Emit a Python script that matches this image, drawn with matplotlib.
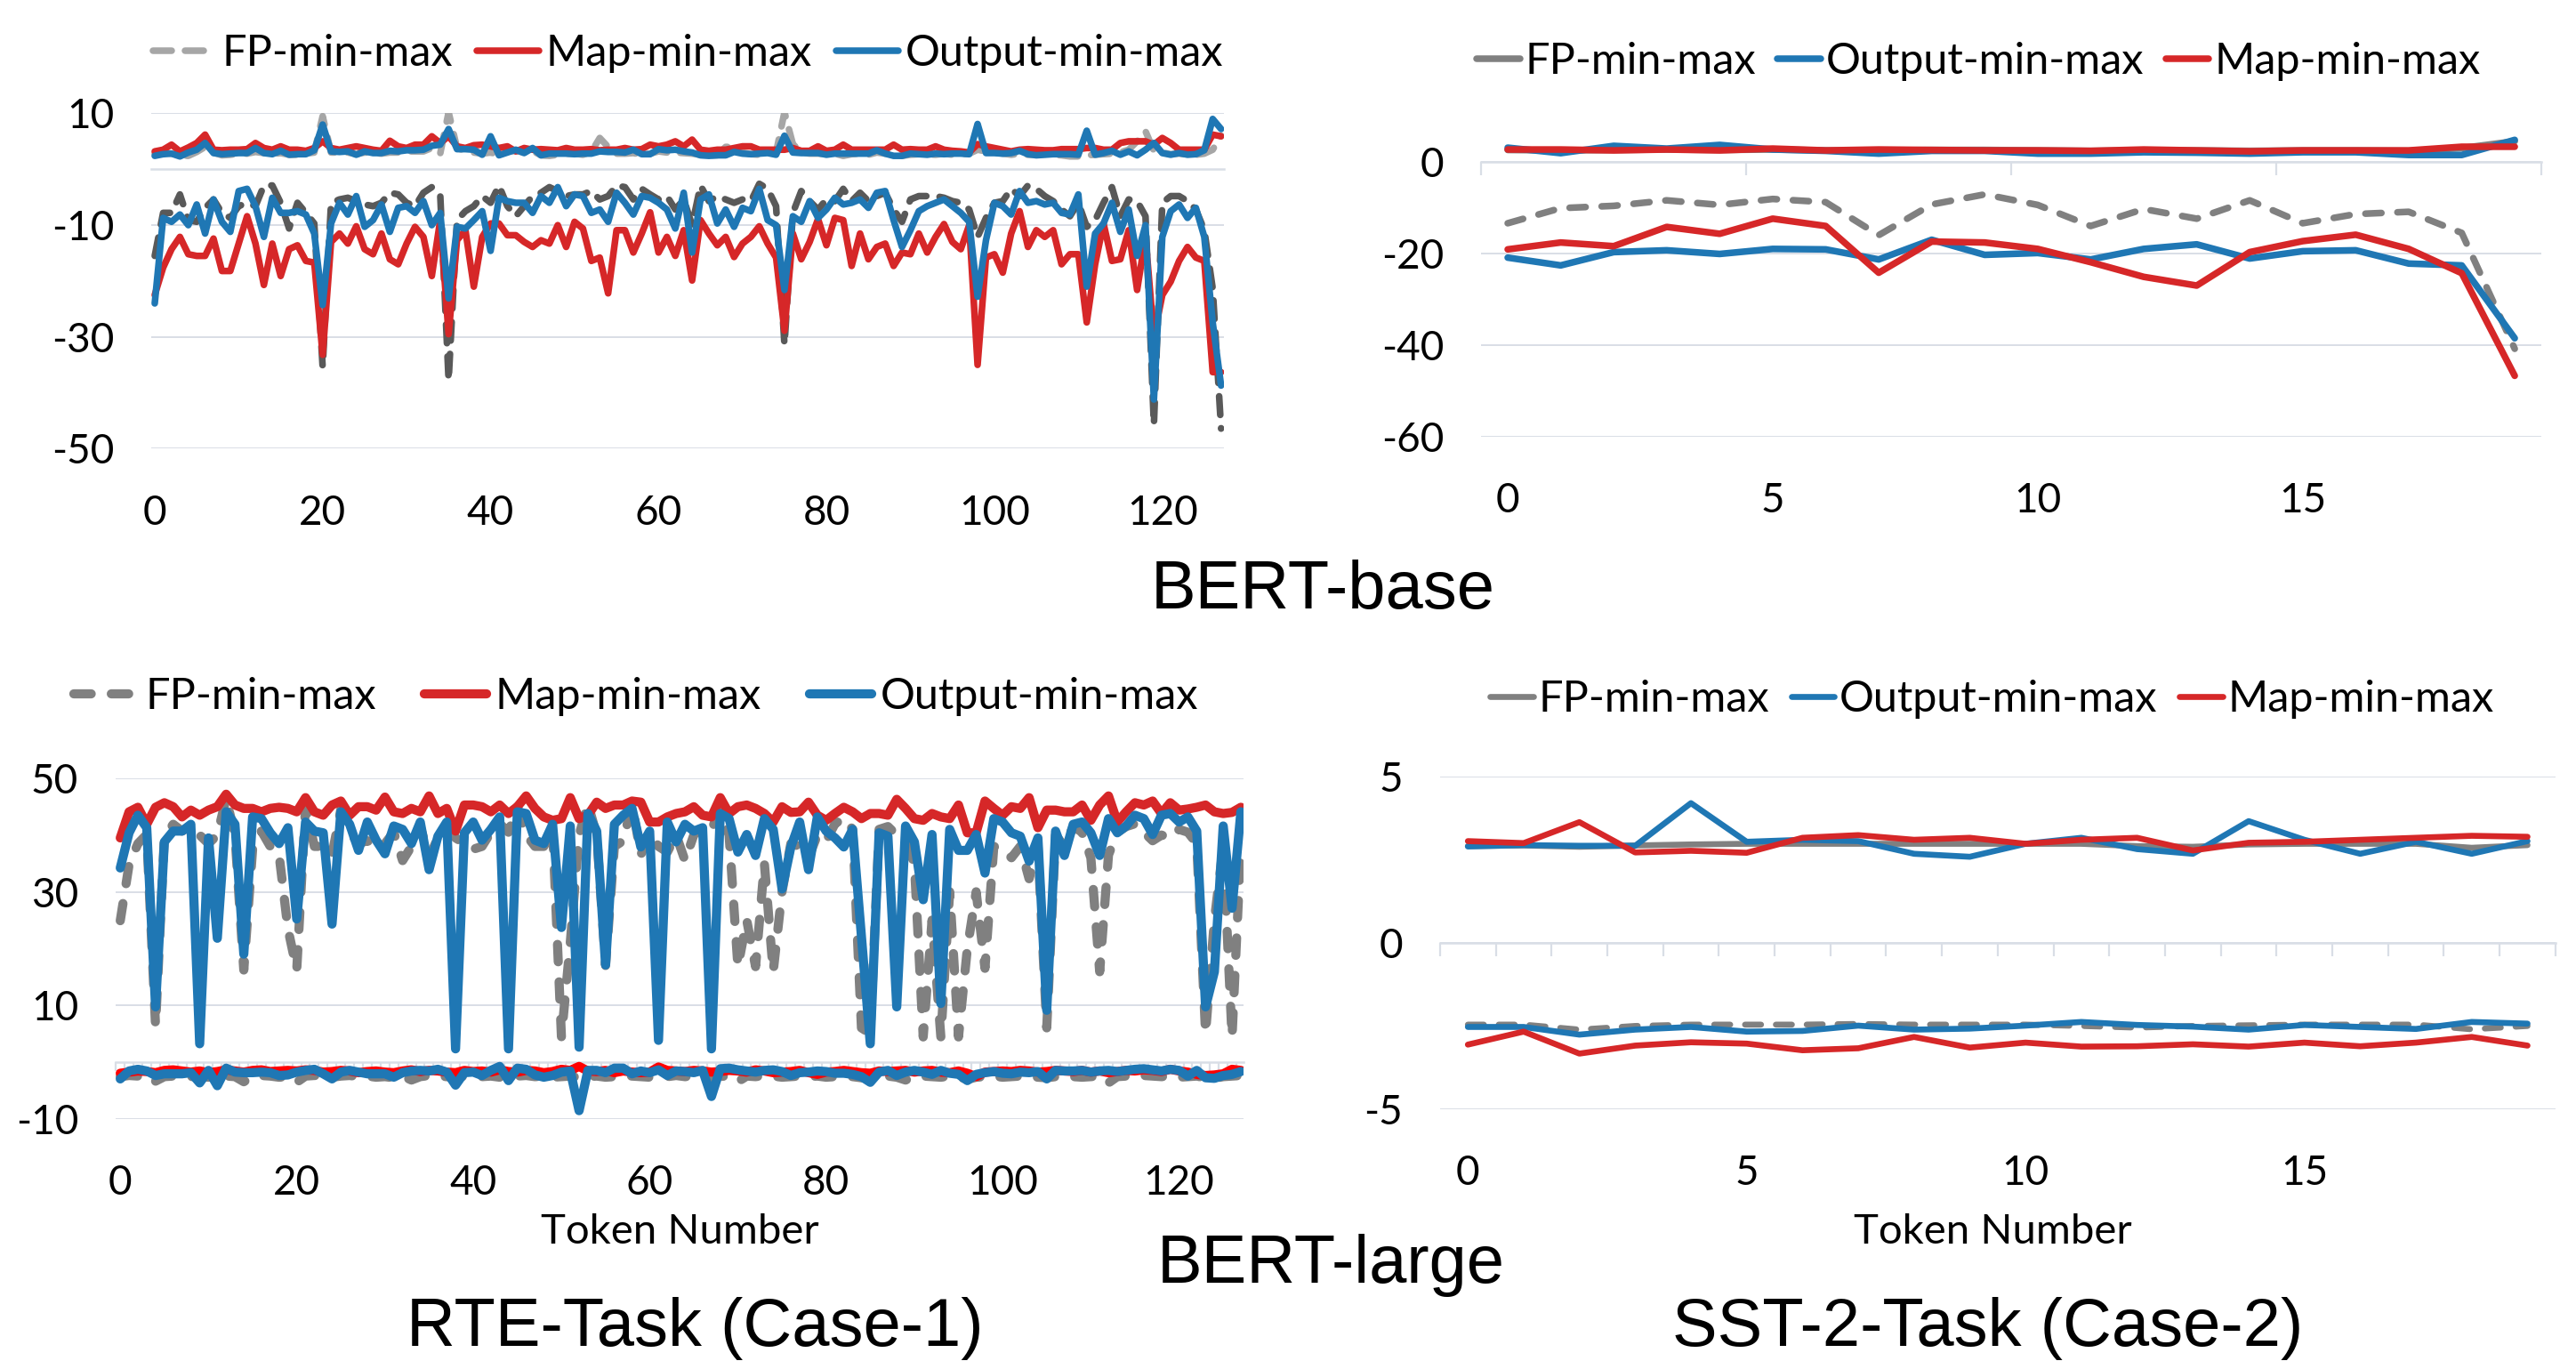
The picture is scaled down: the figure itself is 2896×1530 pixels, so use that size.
import matplotlib
matplotlib.use("Agg")
import matplotlib.pyplot as plt
import numpy as np

plt.rcParams['axes.unicode_minus'] = False
plt.rcParams['font.family'] = ['Lato', 'DejaVu Sans']

# ---------------- data: BERT-base, RTE (128 tokens) ----------------
tl_tokens = list(range(128))
tl_fp_max = [2.8,3.0,2.8,2.5,2.4,3.1,4.0,3.0,2.5,2.6,2.8,2.8,3.1,2.9,2.7,2.9,
             2.6,2.6,2.8,3.0,9.5,3.0,3.0,3.0,2.7,3.0,2.9,2.8,3.0,3.0,3.2,3.2,
             3.2,3.8,2.8,10.2,3.8,3.3,3.0,2.8,3.0,2.6,3.2,3.3,3.0,3.3,2.5,2.4,
             2.6,2.8,2.8,2.6,3.1,5.6,4.0,2.8,2.8,2.9,2.6,2.8,3.2,3.0,3.0,2.9,
             2.8,2.6,2.5,2.5,4.0,4.0,3.0,2.7,2.6,2.8,3.0,10.2,4.5,3.0,2.8,2.8,
             2.7,2.8,2.4,2.7,2.8,2.6,3.0,2.8,2.7,2.4,2.6,2.7,2.7,2.6,2.8,2.6,
             2.7,2.8,3.5,3.2,3.0,2.8,2.6,2.8,2.6,2.6,2.7,2.6,2.5,2.3,2.3,2.5,
             2.6,2.7,2.8,3.0,3.5,5.0,6.8,3.3,3.0,2.7,2.8,2.6,2.6,2.8,3.5,6.0]
tl_fp_min = [-15.5,-7.8,-7.8,-4.5,-9.1,-9.4,-6.9,-5.4,-7.8,-8.7,-6.6,-6.0,-6.6,-2.9,-2.9,-6.0,
             -10.6,-6.0,-7.8,-9.7,-35.4,-6.0,-5.4,-5.1,-5.7,-6.3,-6.6,-6.0,-4.2,-4.5,-6.0,-6.6,
             -4.2,-3.2,-4.5,-37.8,-9.1,-7.5,-6.6,-4.8,-6.0,-2.9,-6.6,-8.4,-6.6,-4.8,-4.2,-3.2,
             -3.9,-4.8,-4.5,-4.5,-3.9,-5.4,-4.8,-2.9,-3.2,-5.4,-3.5,-4.5,-5.4,-4.8,-7.2,-5.4,
             -10.0,-2.9,-5.7,-4.8,-5.4,-6.0,-5.4,-5.7,-2.6,-3.5,-6.6,-31.4,-7.8,-3.9,-5.7,-7.2,
             -5.4,-5.7,-3.5,-5.7,-4.2,-5.7,-4.8,-4.2,-7.2,-9.4,-5.4,-4.8,-4.8,-4.8,-5.1,-5.7,
             -6.0,-7.2,-12.1,-8.7,-6.0,-5.7,-3.5,-4.8,-2.9,-3.5,-4.8,-5.7,-7.2,-8.4,-6.0,-10.3,
             -9.1,-6.0,-3.2,-8.4,-5.4,-5.7,-8.4,-45.7,-6.0,-4.8,-4.8,-5.7,-7.2,-10.9,-21.3,-46.4]
tl_map_max = [3.2,3.5,4.4,3.2,3.9,4.7,6.2,3.5,3.4,3.5,3.5,3.6,4.7,3.8,3.5,4.1,
              3.5,3.5,3.3,3.8,5.0,3.8,3.5,3.8,4.1,3.8,3.5,3.3,5.1,4.1,3.8,4.4,
              4.4,5.9,4.7,5.9,4.1,3.8,4.3,4.4,4.1,3.8,4.1,3.2,3.8,3.5,3.6,3.5,
              3.4,3.8,3.5,3.5,3.6,3.4,3.5,3.5,3.8,3.5,3.6,4.4,4.1,4.4,5.0,4.1,
              5.3,3.5,3.3,3.5,3.5,3.8,4.1,4.1,3.5,3.5,3.5,3.5,3.8,3.3,3.3,4.1,
              3.3,3.5,4.4,3.5,3.5,3.5,3.5,3.5,4.4,3.5,3.6,3.5,3.5,4.1,3.5,3.3,
              3.2,3.0,4.5,4.1,3.8,3.5,3.2,3.5,3.6,3.5,3.4,3.4,3.6,3.6,3.6,3.8,
              3.8,3.5,3.5,4.7,5.0,5.0,5.0,4.4,5.6,4.7,3.5,3.5,3.5,3.5,6.2,5.9]
tl_map_min = [-22.5,-17.6,-14.3,-12.1,-15.2,-15.5,-15.5,-12.4,-18.2,-18.2,-13.3,-8.4,-13.3,-20.7,-13.3,-19.1,
              -14.3,-13.6,-16.4,-16.7,-33.2,-13.0,-11.5,-13.3,-10.2,-14.3,-15.2,-11.5,-16.1,-17.0,-13.3,-10.3,
              -12.1,-19.1,-9.1,-29.5,-12.7,-10.9,-21.0,-12.1,-9.7,-9.7,-11.8,-11.8,-13.0,-13.9,-12.7,-13.3,
              -10.0,-13.9,-9.4,-10.6,-16.4,-15.8,-22.2,-10.9,-10.9,-14.9,-11.5,-7.7,-14.9,-12.1,-15.5,-10.9,
              -19.9,-9.1,-11.5,-13.6,-12.1,-15.7,-13.3,-12.1,-10.2,-13.3,-15.8,-28.9,-11.5,-16.1,-13.0,-8.9,
              -13.6,-8.7,-9.1,-17.3,-11.5,-16.1,-13.9,-13.3,-17.3,-14.9,-15.2,-11.5,-14.9,-12.1,-9.8,-13.0,
              -14.3,-10.0,-35.0,-15.8,-15.2,-18.5,-11.5,-7.5,-13.9,-10.9,-12.1,-10.9,-17.0,-15.2,-15.2,-27.4,
              -17.0,-9.7,-16.4,-16.1,-10.9,-21.6,-12.1,-30.0,-22.5,-20.1,-16.4,-13.9,-15.8,-16.4,-36.3,-36.3]
tl_out_max = [2.4,2.7,2.8,2.3,3.0,3.5,4.7,2.9,2.7,2.8,2.9,2.9,3.8,2.9,2.7,3.3,
              2.6,2.7,2.7,3.4,8.0,3.2,3.1,3.2,2.6,3.2,2.9,2.9,3.3,3.2,3.4,3.4,
              3.5,4.2,4.4,7.2,3.6,3.6,3.5,2.6,5.9,2.5,3.0,3.5,2.9,3.8,2.5,2.8,
              2.8,2.8,2.7,2.8,2.8,3.2,3.1,3.1,3.0,3.5,2.7,2.7,3.6,3.4,3.5,3.2,
              3.0,2.5,2.4,2.5,2.5,3.1,2.8,2.7,2.8,2.9,2.6,6.0,3.0,2.9,2.9,2.9,
              2.6,2.8,2.8,2.8,2.8,2.8,3.4,2.8,2.4,2.4,2.8,2.7,2.6,2.8,2.7,2.8,
              2.8,2.7,8.1,2.9,2.9,2.8,2.9,3.3,2.7,2.5,2.6,2.7,2.7,2.7,2.6,6.9,
              2.6,2.9,3.3,2.6,3.2,2.5,3.5,4.7,2.9,2.6,2.9,2.6,2.7,3.4,9.0,7.2]
tl_out_min = [-24.0,-8.7,-9.4,-8.1,-10.0,-6.3,-11.5,-5.4,-9.4,-11.2,-3.9,-3.5,-6.6,-12.1,-5.1,-7.8,
              -7.8,-7.5,-8.1,-11.5,-24.3,-9.7,-6.0,-8.1,-4.8,-10.3,-9.1,-6.3,-11.2,-6.9,-6.6,-7.8,
              -5.7,-10.0,-7.8,-23.1,-10.3,-10.6,-9.1,-7.5,-14.6,-5.1,-5.7,-6.0,-6.0,-7.8,-4.8,-6.0,
              -3.2,-6.6,-4.5,-4.8,-7.8,-7.2,-9.4,-4.2,-6.0,-8.1,-4.8,-5.1,-6.0,-7.2,-10.6,-4.2,
              -14.9,-5.4,-4.5,-9.7,-7.2,-10.3,-6.9,-7.5,-3.5,-9.1,-10.0,-21.6,-8.4,-9.4,-5.7,-8.7,
              -7.2,-5.1,-6.3,-6.0,-5.4,-6.9,-4.2,-3.9,-9.1,-13.9,-10.9,-7.5,-6.6,-6.0,-5.4,-6.6,
              -7.8,-9.4,-22.8,-12.7,-6.0,-6.6,-8.1,-3.9,-6.0,-5.7,-6.3,-6.0,-7.8,-8.1,-4.5,-21.0,
              -11.5,-9.7,-6.0,-11.2,-7.2,-15.5,-10.0,-41.2,-12.1,-7.5,-6.3,-8.7,-6.9,-12.1,-27.4,-38.7]

# ---------------- data: BERT-base, SST-2 (20 tokens) ----------------
tr_tokens = list(range(20))
tr_fp_max = [2.6,2.5,2.6,2.7,2.6,2.7,2.5,2.5,2.6,2.6,2.5,2.4,2.5,2.5,2.4,2.5,2.5,2.4,3.0,4.5]
tr_fp_min = [-13.4,-10.1,-9.6,-8.4,-9.4,-8.1,-8.8,-16.0,-9.3,-7.1,-9.4,-14.0,-10.3,-12.4,-8.4,-13.4,-11.4,-10.9,-15.5,-40.8]
tr_out_max = [3.1,1.9,3.5,2.9,3.7,2.7,2.4,1.8,2.4,2.4,1.8,1.8,2.1,2.0,1.8,2.1,2.1,1.5,1.5,4.8]
tr_out_min = [-20.9,-22.6,-19.7,-19.3,-20.1,-19.0,-19.1,-21.3,-17.0,-20.3,-19.9,-21.3,-19.0,-18.0,-21.1,-19.5,-19.3,-22.2,-22.6,-38.5]
tr_map_max = [2.7,2.7,2.5,2.7,2.5,2.9,2.5,2.7,2.6,2.5,2.5,2.4,2.7,2.5,2.3,2.5,2.5,2.5,3.3,3.3]
tr_map_min = [-19.1,-17.6,-18.4,-14.2,-15.7,-12.4,-14.0,-24.2,-17.4,-17.6,-19.0,-21.9,-25.1,-27.0,-19.7,-17.3,-15.9,-19.0,-24.3,-46.7]

# ---------------- data: BERT-large, RTE (128 tokens) ----------------
bl_tokens = list(range(128))
bl_fp_max = [24.9,34.8,38.5,40.1,6.3,39.8,41.9,40.7,41.6,40.0,38.5,40.0,46.5,40.0,16.2,37.5,
             40.7,38.0,36.5,23.5,16.2,45.0,38.0,38.0,36.5,44.5,40.5,38.5,39.0,38.0,38.5,40.5,
             35.5,38.0,41.5,36.0,39.5,41.5,39.5,38.5,37.5,38.0,40.5,42.0,40.5,45.0,40.0,38.0,
             38.0,41.0,4.4,21.0,40.0,45.5,40.0,17.0,38.0,39.0,45.5,36.5,40.5,38.0,37.0,40.0,
             35.5,40.0,41.5,41.0,44.5,40.0,16.8,25.0,16.8,35.0,15.9,30.0,38.5,38.0,36.0,40.0,
             39.0,42.0,43.0,41.0,6.0,5.0,41.0,41.5,40.0,39.0,35.0,4.4,25.0,4.4,30.0,4.4,
             20.0,30.0,16.5,38.0,37.5,36.0,38.0,32.3,38.0,6.0,40.0,38.0,41.5,40.5,36.0,15.9,
             36.5,40.5,41.5,42.0,40.5,39.0,40.0,39.5,41.0,40.5,38.5,5.0,25.0,38.0,4.4,38.0]
bl_fp_min = [-2.6,-2.4,-2.5,-2.3,-3.4,-2.6,-2.5,-2.4,-2.6,-2.5,-2.7,-2.4,-2.5,-2.6,-3.5,-2.6,
             -2.4,-2.5,-2.7,-2.6,-3.6,-2.5,-2.4,-2.6,-2.7,-2.5,-2.4,-2.6,-2.5,-2.7,-2.6,-2.8,
             -2.5,-3.2,-2.6,-2.4,-2.5,-2.6,-2.8,-2.5,-2.4,-2.6,-2.5,-2.7,-2.6,-2.5,-2.4,-2.6,
             -2.5,-2.7,-2.6,-2.5,-2.8,-2.6,-2.5,-2.7,-2.6,-2.4,-2.5,-2.6,-2.7,-2.5,-2.6,-2.4,
             -2.6,-2.5,-2.7,-2.8,-2.5,-2.6,-3.5,-2.5,-2.6,-2.4,-2.5,-2.7,-2.6,-2.5,-2.6,-2.5,
             -2.7,-2.6,-2.5,-2.6,-2.8,-2.9,-2.6,-2.5,-2.7,-3.2,-2.6,-2.5,-2.6,-2.7,-2.5,-2.6,
             -3.1,-2.7,-2.6,-2.5,-2.7,-2.6,-2.5,-2.6,-2.7,-2.8,-2.6,-2.5,-2.6,-2.7,-2.6,-2.5,
             -3.7,-2.6,-2.5,-2.6,-2.4,-2.5,-2.6,-2.5,-2.7,-2.6,-2.5,-2.8,-2.9,-2.6,-2.5,-2.4]
bl_map_max = [39.5,44.1,44.9,41.9,44.9,45.7,45.0,43.2,44.4,43.5,44.4,45.0,47.2,45.3,44.7,44.7,
              44.1,44.7,44.9,44.7,44.1,46.6,44.1,43.5,45.3,46.0,43.5,45.0,45.0,44.4,46.7,44.1,
              43.8,44.7,44.1,46.9,43.8,44.7,40.7,45.3,45.3,45.0,44.1,45.3,43.8,45.0,46.9,44.7,
              43.2,42.6,42.9,46.6,42.9,43.5,45.8,44.7,45.3,45.3,46.0,45.8,42.3,42.3,43.2,43.8,
              44.1,45.0,43.5,43.2,46.6,43.8,45.0,45.3,44.7,43.8,42.3,45.0,44.0,44.1,45.8,43.5,
              42.6,43.8,44.9,44.1,42.9,43.8,43.8,43.5,46.3,44.7,42.9,42.6,43.8,43.2,42.9,45.3,
              40.4,40.4,46.0,44.7,43.5,45.0,44.7,46.6,41.3,44.4,44.4,44.1,44.1,45.3,42.6,45.3,
              46.9,42.3,44.1,45.7,45.3,46.0,43.8,45.7,44.4,44.6,44.9,45.3,44.1,43.8,44.0,44.9]
bl_map_min = [-2.0,-1.8,-1.6,-1.7,-1.9,-1.5,-1.4,-1.6,-1.8,-1.6,-1.9,-1.7,-1.4,-1.6,-1.8,-1.5,
              -1.4,-1.7,-1.6,-1.5,-1.6,-1.4,-1.5,-1.8,-1.7,-1.5,-1.6,-1.9,-1.7,-1.6,-1.8,-1.9,
              -1.6,-1.4,-1.7,-1.5,-1.6,-1.8,-1.9,-1.5,-1.7,-1.6,-1.8,-1.4,-1.7,-1.8,-1.5,-1.6,
              -1.9,-1.7,-1.3,-1.5,-0.8,-1.6,-1.7,-1.5,-1.9,-1.6,-1.8,-1.9,-1.8,-0.9,-1.5,-1.6,
              -1.7,-1.5,-1.6,-1.8,-1.7,-1.5,-1.6,-1.8,-1.4,-1.6,-1.9,-1.8,-1.7,-1.5,-1.9,-2.2,
              -1.8,-1.7,-1.5,-1.7,-1.9,-2.0,-1.6,-1.7,-1.6,-1.5,-1.8,-1.6,-1.5,-1.8,-1.9,-1.6,
              -2.0,-2.6,-1.8,-1.7,-1.6,-1.7,-1.5,-1.6,-1.8,-1.7,-1.5,-1.6,-1.7,-1.5,-1.8,-1.6,
              -1.9,-1.7,-1.5,-1.6,-1.4,-1.5,-1.7,-1.3,-1.6,-1.8,-2.2,-2.4,-2.3,-2.1,-1.3,-1.5]
bl_out_max = [34.2,40.4,43.5,41.3,9.7,38.8,40.7,40.7,41.9,3.2,39.5,21.8,44.1,41.9,19.0,43.2,
              42.9,40.4,38.5,41.3,25.2,42.3,40.7,40.4,24.3,44.1,41.9,37.3,42.3,39.1,36.7,41.6,
              41.0,38.5,42.3,33.9,39.8,42.3,2.3,40.4,42.3,39.1,41.0,43.2,2.3,44.1,43.8,39.1,
              38.5,41.9,23.7,41.6,2.6,43.8,40.7,17.1,41.9,43.5,44.7,37.9,40.7,3.8,42.3,38.8,
              41.9,40.7,41.3,2.3,43.8,42.9,37.0,40.1,36.4,42.9,41.0,30.5,37.9,42.3,33.9,43.2,
              40.7,39.5,37.9,41.0,22.0,3.2,40.4,39.8,9.7,41.6,38.8,28.6,40.1,10.3,41.0,37.3,
              37.3,40.1,33.3,42.9,42.3,40.4,39.8,35.4,39.5,9.1,40.7,36.4,41.9,42.3,40.4,36.4,
              42.9,40.4,41.6,43.5,42.9,40.1,43.5,43.8,42.3,43.2,40.7,9.7,15.9,41.6,27.1,44.1]
bl_out_min = [-3.0,-1.6,-1.3,-1.6,-2.4,-2.1,-2.1,-2.1,-1.9,-3.7,-1.5,-4.2,-1.1,-1.8,-1.9,-1.9,
              -1.8,-1.9,-2.4,-2.3,-1.8,-1.5,-1.3,-2.1,-3.0,-1.8,-1.5,-1.8,-2.1,-2.1,-2.1,-2.7,
              -1.9,-1.6,-1.5,-1.6,-1.3,-1.8,-4.1,-1.9,-1.8,-2.4,-1.5,-0.8,-3.3,-1.1,-1.3,-2.3,
              -2.7,-2.4,-1.8,-1.6,-8.6,-1.5,-1.5,-1.9,-1.1,-1.1,-2.1,-1.6,-1.9,-1.4,-2.4,-1.6,
              -1.7,-1.9,-1.5,-6.1,-1.2,-1.1,-1.4,-1.6,-1.8,-1.5,-1.4,-1.7,-2.4,-1.9,-1.8,-1.6,
              -1.7,-2.0,-2.0,-2.2,-2.6,-3.6,-1.8,-1.5,-2.4,-1.8,-1.5,-1.8,-2.2,-1.5,-2.0,-2.2,
              -3.3,-2.2,-1.9,-1.7,-2.0,-2.1,-1.8,-1.9,-1.7,-3.0,-1.5,-1.6,-1.6,-1.5,-1.8,-1.6,
              -1.5,-1.7,-1.5,-1.3,-1.2,-1.4,-1.6,-1.3,-1.5,-2.5,-1.5,-2.8,-2.9,-2.4,-2.2,-1.7]

# ---------------- data: BERT-large, SST-2 (20 tokens) ----------------
br_tokens = list(range(20))
br_fp_max = [2.90,2.92,2.88,2.92,2.95,2.97,2.97,2.97,2.97,2.97,2.97,2.97,2.90,2.88,2.95,2.97,2.97,2.97,2.85,2.93]
br_fp_min = [-2.46,-2.46,-2.61,-2.50,-2.46,-2.46,-2.46,-2.44,-2.46,-2.46,-2.46,-2.50,-2.55,-2.50,-2.48,-2.46,-2.46,-2.46,-2.60,-2.50]
br_out_max = [2.89,2.93,2.91,2.91,4.19,3.03,3.09,3.05,2.67,2.58,2.97,3.15,2.81,2.67,3.65,3.09,2.67,3.03,2.67,3.05]
br_out_min = [-2.53,-2.53,-2.76,-2.61,-2.53,-2.67,-2.65,-2.49,-2.61,-2.58,-2.49,-2.38,-2.47,-2.52,-2.61,-2.47,-2.53,-2.59,-2.38,-2.43]
br_map_max = [3.05,2.99,3.62,2.71,2.76,2.70,3.15,3.23,3.09,3.15,2.97,3.09,3.15,2.77,3.00,3.03,3.09,3.15,3.21,3.18]
br_map_min = [-3.06,-2.67,-3.33,-3.09,-2.99,-3.03,-3.23,-3.17,-2.83,-3.15,-3.00,-3.12,-3.11,-3.05,-3.12,-3.00,-3.11,-3.00,-2.83,-3.09]

tl_xticks = [0, 20, 40, 60, 80, 100, 120]
tl_yticks = [10, -10, -30, -50]
tr_xticks = [0, 5, 10, 15]
tr_yticks = [0, -20, -40, -60]
bl_xticks = [0, 20, 40, 60, 80, 100, 120]
bl_yticks = [50, 30, 10, -10]
br_xticks = [0, 5, 10, 15]
br_yticks = [5, 0, -5]
legend_labels = ["FP-min-max", "Map-min-max", "Output-min-max"]
legend_labels_b = ["FP-min-max", "Output-min-max", "Map-min-max"]

# ---------------- styling ----------------
GRID = '#D9DEE6'
RED = '#D62728'
BRIGHT_RED = '#FF0000'
BLUE = '#1F77B4'
GRAY = '#808080'
DARK_GRAY = '#595959'
LIGHT_GRAY = '#A6A6A6'
TICK_FS = 16.5
LEG_FS = 17.5
TITLE_FS = 27.3

fig = plt.figure(figsize=(14.48, 7.65), dpi=200)


def make_axes(rect, xlim, ylim, xticks, yticks, n, zero_step, zero_len):
    ax = fig.add_axes(rect)
    ax.set_xlim(*xlim)
    ax.set_ylim(*ylim)
    for s in ax.spines.values():
        s.set_visible(False)
    ax.set_xticks(xticks)
    ax.set_yticks(yticks)
    ax.set_yticklabels([str(t) for t in yticks])
    ax.tick_params(axis='both', length=0, labelsize=TICK_FS)
    ax.tick_params(axis='y', pad=15)
    ax.tick_params(axis='x', pad=18.5)
    ax.yaxis.grid(True, color=GRID, lw=0.7)
    ax.set_axisbelow(True)
    frac = (0 - ylim[0]) / (ylim[1] - ylim[0])
    sec = ax.secondary_xaxis(frac)
    sec.set_alignment('bottom')
    sec.set_xticks(np.arange(-0.5, n + 0.01, zero_step))
    sec.tick_params(axis='x', length=zero_len, width=0.8, color=GRID,
                    direction='out', labelbottom=False, labeltop=False)
    sec.spines['bottom'].set_color(GRID)
    sec.spines['bottom'].set_linewidth(0.9)
    return ax


def line(ax, x, y, color, lw, dashes=None, z=2):
    kw = dict(color=color, lw=lw, solid_capstyle='round', solid_joinstyle='round',
              dash_capstyle='round', dash_joinstyle='round', zorder=z)
    if dashes is not None:
        kw['dashes'] = dashes
    return ax.plot(x, y, **kw)[0]


# ---- top-left: BERT-base RTE ----
ax1 = make_axes([0.0586, 0.6703, 0.4164, 0.2464], (-0.45, 127.3), (-50, 10),
                tl_xticks, tl_yticks, len(tl_tokens), 1, 0)
lw = 2.7
h_fp = line(ax1, tl_tokens, tl_fp_max, LIGHT_GRAY, lw, (2.8, 2.0), 2)
line(ax1, tl_tokens, tl_fp_min, DARK_GRAY, lw, (2.8, 2.0), 2)
h_map = line(ax1, tl_tokens, tl_map_max, RED, lw, None, 3)
line(ax1, tl_tokens, tl_map_min, RED, lw, None, 3)
h_out = line(ax1, tl_tokens, tl_out_max, BLUE, lw, None, 4)
line(ax1, tl_tokens, tl_out_min, BLUE, lw, None, 4)
fig.legend([h_fp, h_map, h_out], legend_labels, loc='center', bbox_to_anchor=(0.267, 0.961),
           ncol=3, frameon=False, fontsize=LEG_FS, handlelength=1.45, handletextpad=0.15,
           columnspacing=0.55)

# ---- top-right: BERT-base SST-2 ----
ax2 = make_axes([0.5750, 0.6791, 0.4115, 0.2289], (-0.5, 19.5), (-60, 8),
                tr_xticks, tr_yticks, len(tr_tokens), 5, 5.5)
lw = 2.7
h_fp2 = line(ax2, tr_tokens, tr_fp_max, GRAY, lw, None, 2)
line(ax2, tr_tokens, tr_fp_min, GRAY, lw, (2.4, 2.4), 2)
h_out2 = line(ax2, tr_tokens, tr_out_max, BLUE, lw, None, 3)
line(ax2, tr_tokens, tr_out_min, BLUE, lw, None, 3)
h_map2 = line(ax2, tr_tokens, tr_map_max, RED, lw, None, 4)
line(ax2, tr_tokens, tr_map_min, RED, lw, None, 4)
fig.legend([h_fp2, h_out2, h_map2], legend_labels_b,
           loc='center', bbox_to_anchor=(0.768, 0.955), ncol=3, frameon=False,
           fontsize=LEG_FS, handlelength=1.0, handletextpad=0.12, columnspacing=0.5)

# ---- bottom-left: BERT-large RTE ----
ax3 = make_axes([0.0448, 0.1781, 0.4381, 0.2500], (-0.55, 127.35), (-10, 50),
                bl_xticks, bl_yticks, len(bl_tokens), 1, 3.5)
lw = 3.7
h_fp3 = line(ax3, bl_tokens, bl_fp_max, GRAY, lw, (1.9, 2.2), 2)
line(ax3, bl_tokens, bl_fp_min, GRAY, lw, (1.9, 2.2), 2)
h_map3 = line(ax3, bl_tokens, bl_map_max, RED, lw, None, 3)
line(ax3, bl_tokens, bl_map_min, BRIGHT_RED, lw, None, 3)
h_out3 = line(ax3, bl_tokens, bl_out_max, BLUE, lw, None, 4)
line(ax3, bl_tokens, bl_out_min, BLUE, lw, None, 4)
fig.legend([h_fp3, h_map3, h_out3], legend_labels, loc='center', bbox_to_anchor=(0.247, 0.488),
           ncol=3, frameon=False, fontsize=LEG_FS, handlelength=1.45, handletextpad=0.2,
           columnspacing=1.1)

# ---- bottom-right: BERT-large SST-2 ----
ax4 = make_axes([0.5590, 0.1850, 0.4330, 0.2447], (-0.5, 19.5), (-5, 5),
                br_xticks, br_yticks, len(br_tokens), 1, 5.5)
lw = 2.4
h_fp4 = line(ax4, br_tokens, br_fp_max, GRAY, lw, None, 2)
line(ax4, br_tokens, br_fp_min, GRAY, lw, (2.7, 2.5), 2)
h_out4 = line(ax4, br_tokens, br_out_max, BLUE, lw, None, 3)
line(ax4, br_tokens, br_out_min, BLUE, lw, None, 3)
h_map4 = line(ax4, br_tokens, br_map_max, RED, lw, None, 4)
line(ax4, br_tokens, br_map_min, RED, lw, None, 4)
fig.legend([h_fp4, h_out4, h_map4], legend_labels_b,
           loc='center', bbox_to_anchor=(0.7733, 0.486), ncol=3, frameon=False,
           fontsize=LEG_FS, handlelength=1.0, handletextpad=0.12, columnspacing=0.5)

# ---- text labels ----
fig.text(0.2640, 0.0862, "Token Number", ha='center', va='baseline', fontsize=17)
fig.text(0.7736, 0.0862, "Token Number", ha='center', va='baseline', fontsize=17)
title_kw = dict(ha='center', va='baseline', fontsize=TITLE_FS, family=['Liberation Sans', 'DejaVu Sans'])
fig.text(0.5134, 0.553, "BERT-base", **title_kw)
fig.text(0.5166, 0.0572, "BERT-large", **title_kw)
fig.text(0.2698, 0.0112, "RTE-Task (Case-1)", **title_kw)
fig.text(0.7717, 0.0112, "SST-2-Task (Case-2)", **title_kw)

fig.savefig("out.png", dpi=200, facecolor='white')
